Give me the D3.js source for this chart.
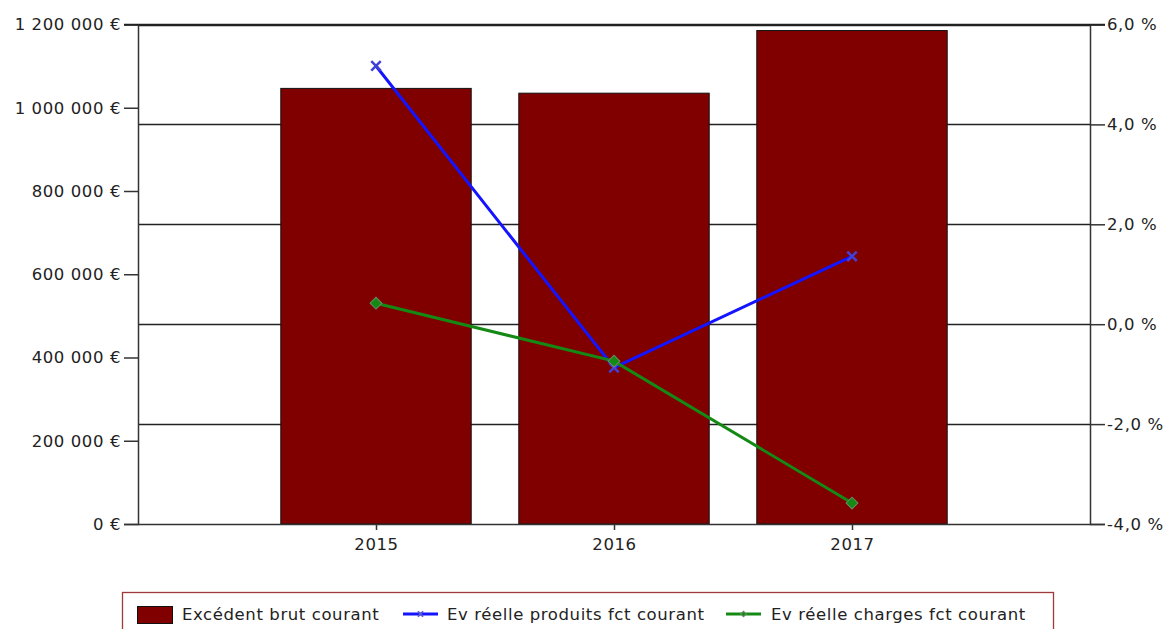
<!DOCTYPE html>
<html><head><meta charset="utf-8">
<script src="https://cdn.jsdelivr.net/npm/d3@7"></script>
<style>
html,body{margin:0;padding:0;background:#fff;}
text{font-family:"DejaVu Sans",Verdana,sans-serif;}
</style></head>
<body>
<svg id="chart" width="1169" height="629"></svg>
<script>
const years = [2015, 2016, 2017];
const excedent = [1046500, 1035000, 1185500];
const evProduits = [5.17, -0.87, 1.36];
const evCharges = [0.42, -0.74, -3.58];
const leftTicks = [0, 200000, 400000, 600000, 800000, 1000000, 1200000];
const rightTicks = [-4, -2, 0, 2, 4, 6];
const seriesNames = ["Excédent brut courant", "Ev réelle produits fct courant", "Ev réelle charges fct courant"];

const svg = d3.select("#chart");
const L = 138, R = 1090, T = 24.5, B = 524;
const fs = 16.5, ls = "0.6px";
const loc = d3.formatLocale({decimal: ",", thousands: "\u00a0", grouping: [3], currency: ["", " €"], minus: "-"});
const fmtEur = v => loc.format(",d")(v) + " €";
const fmtPct = v => loc.format(".1f")(v) + " %";

const x = d3.scaleLinear().domain([2014, 2018]).range([L, R]);
const yL = d3.scaleLinear().domain([0, 1200000]).range([B, T]);
const yR = d3.scaleLinear().domain([-4, 6]).range([B, T]);
const barW = (x(2015) - x(2014)) * 0.8;

// gridlines (from right axis)
svg.append("g").selectAll("line").data(rightTicks.filter(d => d > -4)).join("line")
  .attr("x1", L).attr("x2", R)
  .attr("y1", d => Math.round(yR(d)) + 0.5).attr("y2", d => Math.round(yR(d)) + 0.5)
  .attr("stroke", "#222").attr("stroke-width", 1.3);

// bars
svg.append("g").selectAll("rect").data(years).join("rect")
  .attr("x", (d) => x(d) - barW / 2)
  .attr("y", (d, i) => yL(excedent[i]))
  .attr("width", barW)
  .attr("height", (d, i) => B - yL(excedent[i]))
  .attr("fill", "#800000").attr("stroke", "#111").attr("stroke-width", 1);

// axes
const gl = svg.append("g").attr("transform", `translate(${L},0)`)
  .call(d3.axisLeft(yL).tickValues(leftTicks).tickFormat(fmtEur).tickSize(14).tickPadding(3));
const gr = svg.append("g").attr("transform", `translate(${R},0)`)
  .call(d3.axisRight(yR).tickValues(rightTicks).tickFormat(fmtPct).tickSize(15).tickPadding(2));
const gb = svg.append("g").attr("transform", `translate(0,${B})`)
  .call(d3.axisBottom(x).tickValues(years).tickFormat(d3.format("d")).tickSize(6).tickPadding(8));
[gl, gr, gb].forEach(g => {
  g.select(".domain").attr("stroke", "#333").attr("stroke-width", 1.5);
  g.selectAll(".tick line").attr("stroke", "#333").attr("stroke-width", 1.5);
  g.selectAll("text").attr("fill", "#222").style("font-size", fs + "px").style("letter-spacing", ls)
    .style("font-family", '"DejaVu Sans",Verdana,sans-serif');
});
gb.select(".domain").attr("d", `M${L},0.5H${R}`);
svg.append("line").attr("x1", L - 14).attr("x2", R + 15).attr("y1", T).attr("y2", T)
  .attr("stroke", "#222").attr("stroke-width", 1.3);

// lines
const line = d3.line().x(d => x(d[0])).y(d => yR(d[1]));
const pData = years.map((y, i) => [y, evProduits[i]]);
const cData = years.map((y, i) => [y, evCharges[i]]);
svg.append("path").datum(pData).attr("d", line).attr("fill", "none").attr("stroke", "#1414ff").attr("stroke-width", 3);
svg.append("g").selectAll("path").data(pData).join("path")
  .attr("d", d3.symbol().type(d3.symbolX).size(60))
  .attr("transform", d => `translate(${x(d[0])},${yR(d[1])})`)
  .attr("stroke", "#4040d8").attr("stroke-width", 2.5).attr("fill", "none");
svg.append("path").datum(cData).attr("d", line).attr("fill", "none").attr("stroke", "#148a14").attr("stroke-width", 3);
svg.append("g").selectAll("path").data(cData).join("path")
  .attr("d", d3.symbol().type(d3.symbolSquare).size(70))
  .attr("transform", d => `translate(${x(d[0])},${yR(d[1])}) rotate(45)`)
  .attr("fill", "#148a14").attr("stroke", "#6a8a6a").attr("stroke-width", 1);

// legend
const lg = svg.append("g");
lg.append("rect").attr("x", 122.5).attr("y", 592.5).attr("width", 931).attr("height", 60)
  .attr("fill", "#fff").attr("stroke", "#9e3a3a").attr("stroke-width", 1.3);
lg.append("rect").attr("x", 137.5).attr("y", 606.5).attr("width", 35).attr("height", 17)
  .attr("fill", "#800000").attr("stroke", "#111");
const lt = (xx, s) => lg.append("text").attr("x", xx).attr("y", 620).text(s).attr("fill", "#222")
  .style("font-size", fs + "px").style("letter-spacing", ls);
lt(182, seriesNames[0]);
lg.append("line").attr("x1", 403).attr("x2", 438).attr("y1", 614).attr("y2", 614).attr("stroke", "#1414ff").attr("stroke-width", 3);
lg.append("path").attr("d", d3.symbol().type(d3.symbolX).size(20)).attr("transform", "translate(420.5,614)")
  .attr("stroke", "#5a5ad8").attr("stroke-width", 2).attr("fill", "none");
lt(447, seriesNames[1]);
lg.append("line").attr("x1", 726).attr("x2", 761).attr("y1", 614).attr("y2", 614).attr("stroke", "#148a14").attr("stroke-width", 3);
lg.append("path").attr("d", d3.symbol().type(d3.symbolSquare).size(16)).attr("transform", "translate(743.5,614) rotate(45)")
  .attr("fill", "#148a14").attr("stroke", "#6a8a6a");
lt(771, seriesNames[2]);
</script>
</body></html>
